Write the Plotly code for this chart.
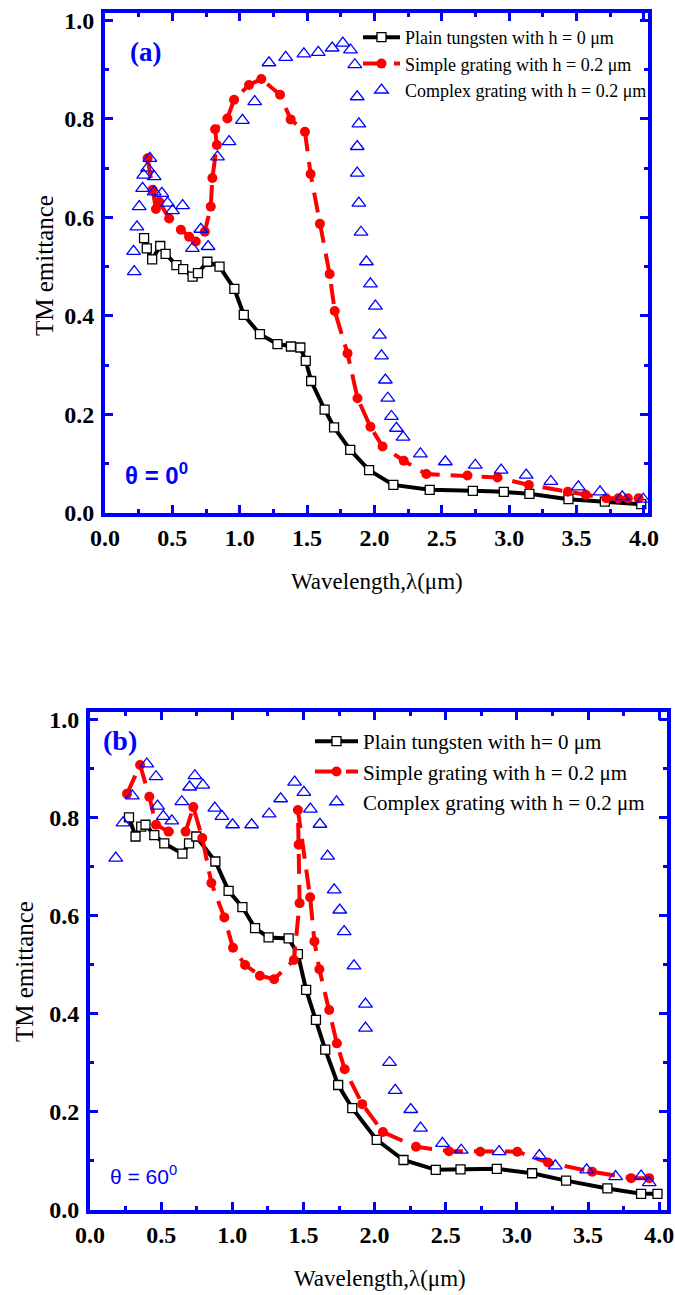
import plotly.graph_objects as go

# ---------------- Panel (a): theta = 0 ----------------
a_plain_x = [0.29, 0.31, 0.35, 0.41, 0.45, 0.53, 0.58, 0.65, 0.69, 0.76, 0.85, 0.96, 1.03, 1.15,
             1.28, 1.38, 1.45, 1.49, 1.53, 1.63, 1.70, 1.82, 1.96, 2.14, 2.41, 2.73, 2.96, 3.15,
             3.44, 3.71, 3.98]
a_plain_y = [0.558, 0.537, 0.515, 0.542, 0.526, 0.503, 0.495, 0.480, 0.487, 0.510, 0.500, 0.455,
             0.402, 0.363, 0.343, 0.338, 0.336, 0.309, 0.268, 0.210, 0.174, 0.128, 0.087, 0.057,
             0.047, 0.045, 0.043, 0.039, 0.028, 0.023, 0.018]

a_simple_x = [0.316, 0.353, 0.378, 0.402, 0.476, 0.563, 0.624, 0.674, 0.741, 0.785, 0.797, 0.830,
              0.817, 0.908, 0.958, 1.069, 1.160, 1.299, 1.378, 1.484, 1.526, 1.595, 1.667, 1.705,
              1.800, 1.874, 1.970, 2.060, 2.217, 2.385, 2.690, 2.913, 3.146, 3.435, 3.568, 3.720,
              3.810, 3.880, 3.960]
a_simple_y = [0.720, 0.656, 0.617, 0.632, 0.598, 0.575, 0.561, 0.551, 0.571, 0.622, 0.680, 0.747,
              0.779, 0.801, 0.839, 0.869, 0.881, 0.849, 0.799, 0.774, 0.688, 0.587, 0.485, 0.410,
              0.324, 0.233, 0.175, 0.135, 0.106, 0.079, 0.076, 0.072, 0.057, 0.043, 0.037, 0.030,
              0.030, 0.030, 0.030]

a_complex_x = [0.212, 0.217, 0.237, 0.254, 0.279, 0.287, 0.316, 0.333, 0.365, 0.365, 0.422, 0.464,
               0.501, 0.576, 0.649, 0.711, 0.765, 0.835, 0.921, 1.020, 1.111, 1.217, 1.341, 1.476,
               1.583, 1.686, 1.765, 1.822, 1.854, 1.872, 1.884, 1.872, 1.872, 1.884, 1.900, 1.940,
               1.970, 2.007, 2.037, 2.052, 2.081, 2.099, 2.126, 2.163, 2.212, 2.341, 2.526, 2.748,
               2.940, 3.126, 3.309, 3.513, 3.674, 3.839, 3.995]
a_complex_y = [0.531, 0.490, 0.581, 0.622, 0.659, 0.686, 0.700, 0.720, 0.683, 0.652, 0.649, 0.629,
               0.614, 0.624, 0.537, 0.576, 0.541, 0.723, 0.754, 0.797, 0.835, 0.914, 0.925, 0.932,
               0.935, 0.944, 0.954, 0.940, 0.910, 0.845, 0.790, 0.744, 0.690, 0.629, 0.570, 0.510,
               0.465, 0.420, 0.361, 0.319, 0.270, 0.233, 0.196, 0.172, 0.154, 0.120, 0.104, 0.097,
               0.087, 0.077, 0.064, 0.053, 0.043, 0.033, 0.028]

# ---------------- Panel (b): theta = 60 ----------------
b_plain_x = [0.274, 0.320, 0.360, 0.390, 0.452, 0.522, 0.649, 0.696, 0.747, 0.881, 0.974, 1.071,
             1.160, 1.255, 1.396, 1.461, 1.519, 1.588, 1.653, 1.744, 1.843, 2.015, 2.203, 2.430,
             2.604, 2.859, 3.107, 3.346, 3.636, 3.873, 3.988]
b_plain_y = [0.801, 0.762, 0.782, 0.786, 0.765, 0.748, 0.727, 0.748, 0.762, 0.711, 0.651, 0.618,
             0.575, 0.556, 0.554, 0.522, 0.449, 0.388, 0.327, 0.255, 0.208, 0.143, 0.102, 0.082,
             0.083, 0.084, 0.075, 0.060, 0.044, 0.033, 0.033]

b_simple_x = [0.260, 0.352, 0.417, 0.464, 0.552, 0.672, 0.726, 0.789, 0.853, 0.944, 1.005, 1.090,
              1.194, 1.294, 1.433, 1.473, 1.466, 1.461, 1.547, 1.577, 1.612, 1.681, 1.735, 1.790,
              1.913, 2.059, 2.291, 2.523, 2.743, 3.003, 3.219, 3.529, 3.803, 3.930]
b_simple_y = [0.849, 0.908, 0.843, 0.786, 0.772, 0.772, 0.822, 0.759, 0.667, 0.597, 0.535, 0.500,
              0.478, 0.471, 0.510, 0.626, 0.745, 0.816, 0.638, 0.548, 0.491, 0.408, 0.340, 0.287,
              0.216, 0.159, 0.129, 0.120, 0.119, 0.119, 0.097, 0.078, 0.065, 0.065]

b_complex_x = [0.181, 0.232, 0.297, 0.399, 0.464, 0.475, 0.515, 0.575, 0.645, 0.700, 0.737, 0.793,
               0.877, 0.927, 1.002, 1.136, 1.259, 1.340, 1.438, 1.503, 1.549, 1.616, 1.670, 1.716,
               1.755, 1.786, 1.855, 1.936, 1.936, 2.105, 2.145, 2.254, 2.323, 2.477, 2.609, 2.875,
               3.158, 3.270, 3.490, 3.694, 3.873, 3.930]
b_complex_y = [0.718, 0.790, 0.845, 0.910, 0.884, 0.824, 0.803, 0.794, 0.833, 0.863, 0.886, 0.867,
               0.820, 0.803, 0.786, 0.786, 0.808, 0.839, 0.873, 0.852, 0.818, 0.787, 0.722, 0.653,
               0.612, 0.568, 0.498, 0.420, 0.371, 0.301, 0.244, 0.205, 0.167, 0.136, 0.122, 0.119,
               0.111, 0.090, 0.082, 0.068, 0.069, 0.056]

names_a = ["Plain tungsten with h = 0 \u03bcm", "Simple grating with h = 0.2 \u03bcm",
           "Complex grating with h = 0.2 \u03bcm"]
names_b = ["Plain tungsten with h= 0 \u03bcm", "Simple grating with h = 0.2 \u03bcm",
           "Complex grating with h = 0.2 \u03bcm"]

W, H = 675, 1295
SERIF = "Liberation Serif, Times New Roman, serif"
SANS = "Liberation Sans, Arial, sans-serif"
BLUE = "#0000ff"
RED = "#ff0000"


def px(x):
    return x / W


def py(y):
    return 1 - y / H


fig = go.Figure()


def add_panel(xa, ya, leg, names, sets):
    (px_, py_), (sx, sy), (cx, cy) = sets
    fig.add_trace(go.Scatter(
        x=px_, y=py_, name=names[0], mode="lines+markers", xaxis=xa, yaxis=ya, legend=leg,
        line=dict(color="black", width=4),
        marker=dict(symbol="square", size=9, color="white", line=dict(color="black", width=1.3)),
        cliponaxis=False))
    fig.add_trace(go.Scatter(
        x=sx, y=sy, name=names[1], mode="lines+markers", xaxis=xa, yaxis=ya, legend=leg,
        line=dict(color=RED, width=4, dash="20px,11px"),
        marker=dict(symbol="circle", size=10, color=RED),
        cliponaxis=False))
    fig.add_trace(go.Scatter(
        x=cx, y=cy, name=names[2], mode="markers", xaxis=xa, yaxis=ya, legend=leg,
        marker=dict(symbol="triangle-up-open", size=12, color=BLUE, line=dict(width=1.3)),
        cliponaxis=False))


add_panel("x", "y", "legend", names_a,
          [(a_plain_x, a_plain_y), (a_simple_x, a_simple_y), (a_complex_x, a_complex_y)])
add_panel("x2", "y2", "legend2", names_b,
          [(b_plain_x, b_plain_y), (b_simple_x, b_simple_y), (b_complex_x, b_complex_y)])


def axis(rng, dom, dtick, mdtick, anchor, standoff):
    return dict(range=rng, domain=dom, anchor=anchor, showline=True, linecolor=BLUE, linewidth=4,
                mirror="allticks", ticks="inside", ticklen=8, tickwidth=3, tickcolor=BLUE,
                tick0=0, dtick=dtick, tickformat=".1f", showgrid=False, zeroline=False,
                ticklabelstandoff=standoff, automargin=False, ticklabeloverflow="allow",
                tickfont=dict(family=SERIF, size=24, color="black", weight="bold"),
                minor=dict(ticks="inside", ticklen=4, tickwidth=3, tickcolor=BLUE, dtick=mdtick,
                           showgrid=False))


fig.update_layout(
    width=W, height=H, autosize=False,
    margin=dict(l=0, r=0, t=0, b=0, pad=0, autoexpand=False),
    paper_bgcolor="white", plot_bgcolor="white",
    xaxis=axis([0, 4.03], [px(105), px(648)], 0.5, 0.25, "y", 0),
    yaxis=axis([0, 1.015], [py(513), py(13)], 0.2, 0.1, "x", 2),
    xaxis2=axis([0, 4.055], [px(90), px(667)], 0.5, 0.25, "y2", 0),
    yaxis2=axis([0, 1.016], [py(1210), py(712)], 0.2, 0.1, "x2", 2),
    legend=dict(x=px(358), y=py(19), xanchor="left", yanchor="top", bgcolor="rgba(0,0,0,0)",
                borderwidth=0, itemwidth=37, tracegroupgap=0,
                font=dict(family=SERIF, size=18, color="black")),
    legend2=dict(x=px(310), y=py(721), xanchor="left", yanchor="top", bgcolor="rgba(0,0,0,0)",
                 borderwidth=0, itemwidth=43, tracegroupgap=0,
                 font=dict(family=SERIF, size=21, color="black")),
)

ann = [
    dict(text="(a)", x=px(145), y=py(52), font=dict(family=SERIF, size=27, color=BLUE, weight="bold")),
    dict(text="(b)", x=px(120), y=py(741), font=dict(family=SERIF, size=28, color=BLUE, weight="bold")),
    dict(text="\u03b8 = 0<sup>0</sup>", x=px(156), y=py(474),
         font=dict(family=SANS, size=24, color=BLUE, weight="bold")),
    dict(text="\u03b8 = 60<sup>0</sup>", x=px(143), y=py(1175),
         font=dict(family=SANS, size=21, color=BLUE)),
    dict(text="Wavelength,\u03bb(\u03bcm)", x=px(377), y=py(582),
         font=dict(family=SERIF, size=23, color="black")),
    dict(text="Wavelength,\u03bb(\u03bcm)", x=px(380), y=py(1278),
         font=dict(family=SERIF, size=23, color="black")),
    dict(text="TM emittance", x=px(44), y=py(265), textangle=-90,
         font=dict(family=SERIF, size=25, color="black")),
    dict(text="TM emittance", x=px(24), y=py(972), textangle=-90,
         font=dict(family=SERIF, size=25, color="black")),
]
for a in ann:
    fig.add_annotation(xref="paper", yref="paper", showarrow=False, xanchor="center",
                       yanchor="middle", **a)

fig.write_html("out.html", config={"displayModeBar": False},
               post_script="document.body.style.margin='0px';")
